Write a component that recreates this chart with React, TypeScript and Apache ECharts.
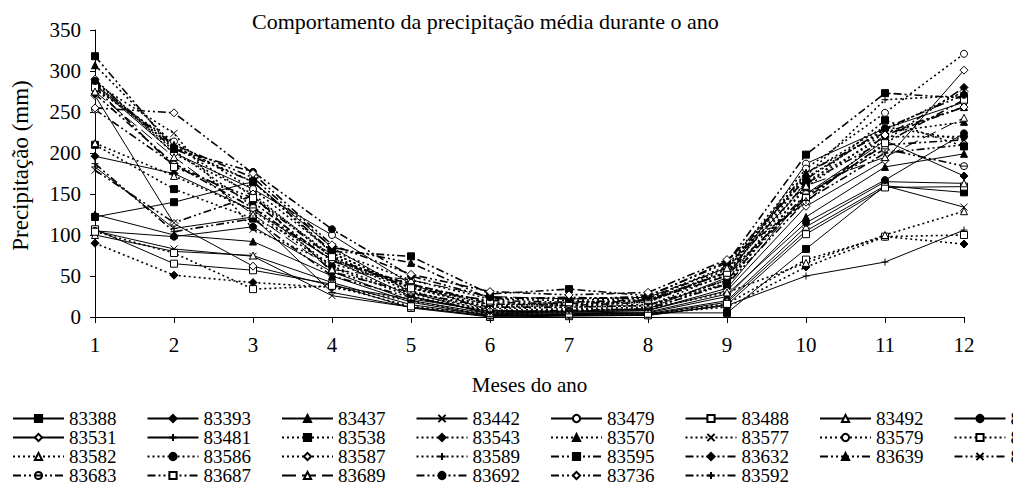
import React, { useEffect, useRef } from "react";
import * as echarts from "echarts";

const months = ["1", "2", "3", "4", "5", "6", "7", "8", "9", "10", "11", "12"];
const yTicks = [0, 50, 100, 150, 200, 250, 300, 350];

const s83388 = [122, 140, 165, 85, 30, 3, 4, 5, 5, 83, 160, 152];
const s83393 = [196, 175, 130, 70, 25, 5, 6, 8, 35, 150, 215, 172];
const s83437 = [125, 100, 92, 50, 18, 2, 3, 5, 25, 122, 183, 199];
const s83442 = [105, 83, 74, 26, 12, 1, 2, 3, 18, 105, 160, 134];
const s83479 = [283, 200, 156, 100, 40, 8, 7, 10, 48, 187, 230, 262];
const s83488 = [107, 65, 57, 40, 11, 0, 1, 2, 15, 101, 158, 159];
const s83492 = [100, 80, 75, 42, 15, 2, 3, 4, 20, 110, 165, 163];
const s83514 = [105, 98, 110, 55, 20, 4, 5, 6, 28, 115, 167, 224];
const s83531 = [270, 114, 62, 38, 22, 7, 6, 8, 32, 135, 191, 301];
const s83481 = [183, 108, 122, 30, 12, 1, 2, 2, 14, 50, 67, 106];
const s83538 = [210, 156, 120, 78, 35, 12, 14, 15, 40, 160, 240, 208];
const s83543 = [90, 51, 42, 36, 20, 2, 3, 4, 12, 61, 98, 89];
const s83570 = [307, 210, 147, 75, 32, 6, 7, 9, 42, 158, 225, 238];
const s83577 = [285, 224, 107, 65, 38, 15, 18, 20, 55, 175, 232, 216];
const s83579 = [278, 214, 156, 80, 45, 22, 20, 23, 62, 181, 249, 321];
const s83581 = [104, 78, 34, 38, 13, 3, 4, 4, 16, 70, 98, 100];
const s83582 = [212, 172, 130, 60, 25, 5, 8, 10, 30, 66, 100, 129];
const s83586 = [285, 203, 135, 62, 28, 8, 10, 12, 45, 165, 220, 220];
const s83587 = [290, 199, 150, 72, 30, 10, 12, 14, 52, 170, 228, 275];
const s83589 = [280, 208, 165, 78, 35, 14, 16, 18, 58, 172, 265, 270];
const s83595 = [318, 205, 165, 80, 74, 28, 34, 26, 66, 198, 273, 267];
const s83632 = [272, 187, 140, 68, 40, 16, 14, 18, 55, 163, 215, 280];
const s83639 = [283, 210, 170, 85, 66, 22, 24, 22, 60, 176, 225, 256];
const s83642 = [179, 115, 148, 55, 30, 12, 12, 14, 45, 148, 210, 216];
const s83683 = [253, 186, 133, 70, 40, 18, 16, 20, 50, 150, 205, 184];
const s83687 = [280, 183, 145, 73, 35, 20, 18, 21, 54, 145, 212, 265];
const s83689 = [275, 195, 125, 58, 45, 25, 22, 24, 60, 160, 195, 243];
const s83692 = [288, 205, 177, 107, 50, 24, 22, 25, 68, 168, 230, 271];
const s83736 = [255, 249, 175, 88, 52, 31, 27, 30, 70, 140, 222, 256];
const s83592 = [187, 104, 120, 50, 24, 6, 8, 10, 40, 142, 200, 210];

const legendRows = [
  ["83388", "83393", "83437", "83442", "83479", "83488", "83492", "83514"],
  ["83531", "83481", "83538", "83543", "83570", "83577", "83579", "83581"],
  ["83582", "83586", "83587", "83589", "83595", "83632", "83639", "83642"],
  ["83683", "83687", "83689", "83692", "83736", "83592"],
];

const seriesValues: Record<string, number[]> = {
  "83388": s83388, "83393": s83393, "83437": s83437, "83442": s83442,
  "83479": s83479, "83488": s83488, "83492": s83492, "83514": s83514,
  "83531": s83531, "83481": s83481, "83538": s83538, "83543": s83543,
  "83570": s83570, "83577": s83577, "83579": s83579, "83581": s83581,
  "83582": s83582, "83586": s83586, "83587": s83587, "83589": s83589,
  "83595": s83595, "83632": s83632, "83639": s83639, "83642": s83642,
  "83683": s83683, "83687": s83687, "83689": s83689, "83692": s83692,
  "83736": s83736, "83592": s83592,
};

// style keys: line type and marker per station
const lineKinds: Record<string, string> = {
  "83388": "solid", "83393": "solid", "83437": "solid", "83442": "solid",
  "83479": "solid", "83488": "solid", "83492": "solid", "83514": "solid",
  "83531": "solid", "83481": "solid", "83538": "dot", "83543": "dot",
  "83570": "dot", "83577": "dot", "83579": "dot", "83581": "dot",
  "83582": "dot", "83586": "dot", "83587": "dot", "83589": "dot",
  "83595": "dashdot", "83632": "dashdot", "83639": "dashdot", "83642": "dashdot",
  "83683": "dashdot", "83687": "dashdot", "83689": "longdash", "83692": "dashdot",
  "83736": "dashdot", "83592": "dashdot",
};

const markerKinds: Record<string, string> = {
  "83388": "sq", "83393": "dia", "83437": "tri", "83442": "x",
  "83479": "ocirc", "83488": "osq", "83492": "otri", "83514": "circ",
  "83531": "odia", "83481": "plus", "83538": "sq", "83543": "dia",
  "83570": "tri", "83577": "x", "83579": "ocirc", "83581": "osq",
  "83582": "otri", "83586": "circ", "83587": "odia", "83589": "plus",
  "83595": "sq", "83632": "dia", "83639": "tri", "83642": "x",
  "83683": "bar", "83687": "osq", "83689": "otri", "83692": "circ",
  "83736": "odia", "83592": "plus",
};

const FONT = "'Liberation Serif', 'Times New Roman', serif";

function markerStyle(kind: string) {
  switch (kind) {
    case "sq": return { symbol: "rect", symbolSize: 7, fill: "#000" };
    case "dia": return { symbol: "diamond", symbolSize: 8, fill: "#000" };
    case "tri": return { symbol: "triangle", symbolSize: 7, fill: "#000" };
    case "circ": return { symbol: "circle", symbolSize: 7, fill: "#000" };
    case "x": return { symbol: "path://M0,0L10,10M10,0L0,10", symbolSize: 7, fill: "#000" };
    case "plus": return { symbol: "path://M5,0L5,10M0,5L10,5", symbolSize: 7, fill: "#000" };
    case "ocirc": return { symbol: "circle", symbolSize: 7, fill: "#fff" };
    case "osq": return { symbol: "rect", symbolSize: 7, fill: "#fff" };
    case "otri": return { symbol: "triangle", symbolSize: 7, fill: "#fff" };
    case "odia": return { symbol: "diamond", symbolSize: 8, fill: "#fff" };
    case "bar": return { symbol: "path://M0,5A5,5,0,1,1,10,5A5,5,0,1,1,0,5ZM0,5L10,5", symbolSize: 7, fill: "#fff" };
    default: return { symbol: "circle", symbolSize: 6, fill: "#000" };
  }
}

function lineStyleFor(kind: string) {
  switch (kind) {
    case "dot": return { type: [2, 3] as any, width: 1.6 };
    case "dashdot": return { type: [8, 3, 2, 3, 2, 3] as any, width: 1.6 };
    case "longdash": return { type: [14, 6] as any, width: 1 };
    default: return { type: "solid" as any, width: 1 };
  }
}

export default function App() {
  const ref = useRef<HTMLDivElement>(null);
  useEffect(() => {
    if (!ref.current) return;
    const chart = echarts.init(ref.current, null, { renderer: "svg" });
    const allNames = legendRows.flat();
    const series = allNames.map((name) => {
      const m = markerStyle(markerKinds[name]);
      const l = lineStyleFor(lineKinds[name]);
      return {
        name,
        type: "line",
        data: seriesValues[name],
        symbol: m.symbol,
        symbolSize: m.symbolSize,
        showAllSymbol: true,
        lineStyle: { color: "#000", width: l.width, type: l.type },
        itemStyle: { color: m.fill, borderColor: "#000", borderWidth: 1 },
        emphasis: { disabled: true },
      };
    });
    const legends = legendRows.map((row, i) => ({
      data: row,
      orient: "horizontal",
      left: 12,
      top: 409 + i * 19,
      width: 1400,
      itemWidth: 51,
      itemHeight: 9,
      itemGap: 30,
      padding: 0,
      selectedMode: false,
      textStyle: { fontFamily: FONT, fontSize: 19, lineHeight: 18, color: "#000" },
    }));
    chart.setOption({
      animation: false,
      backgroundColor: "#fff",
      title: {
        text: "Comportamento da precipitação média durante o ano",
        left: 252,
        top: 10,
        padding: 0,
        textStyle: { fontFamily: FONT, fontSize: 22, fontWeight: "normal", color: "#000" },
      },
      legend: legends,
      grid: { left: 95, right: 49, top: 30, bottom: 173 },
      xAxis: {
        type: "category",
        data: months,
        boundaryGap: false,
        name: "Meses do ano",
        nameLocation: "middle",
        nameGap: 57,
        nameTextStyle: { fontFamily: FONT, fontSize: 21, color: "#000" },
        axisLine: { lineStyle: { color: "#000", width: 1 } },
        axisTick: { show: true, alignWithLabel: true, length: 6, lineStyle: { color: "#000" } },
        axisLabel: { fontFamily: FONT, fontSize: 21, color: "#000", margin: 17 },
        splitLine: { show: false },
      },
      yAxis: {
        type: "value",
        min: yTicks[0],
        max: yTicks[yTicks.length - 1],
        interval: 50,
        name: "Precipitação (mm)",
        nameLocation: "middle",
        nameGap: 63,
        nameRotate: 90,
        nameTextStyle: { fontFamily: FONT, fontSize: 23, color: "#000", padding: [0, 0, 0, 16] },
        axisLine: { show: true, lineStyle: { color: "#000", width: 1 } },
        axisTick: { show: true, length: 5, lineStyle: { color: "#000" } },
        axisLabel: { fontFamily: FONT, fontSize: 21, color: "#000", margin: 14 },
        splitLine: { show: false },
      },
      series,
    });
    return () => chart.dispose();
  }, []);
  return (
    <div
      ref={ref}
      style={{ position: "fixed", left: 0, top: 0, width: 1013, height: 490, background: "#fff" }}
    />
  );
}
